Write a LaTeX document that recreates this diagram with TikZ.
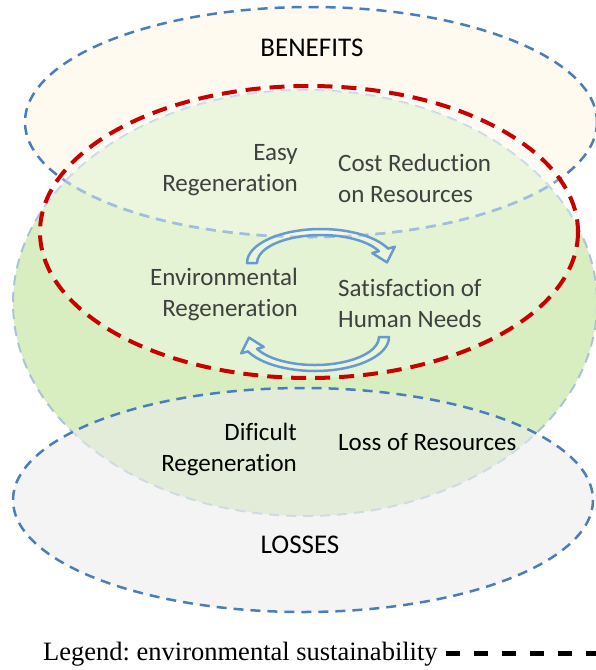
\documentclass[tikz,border=0pt]{standalone}
\usepackage{fontspec}
\setmainfont{Carlito}[Ligatures=NoCommon]
\newfontfamily\legendfont{Liberation Serif}
\frenchspacing
\definecolor{zoneblue}{HTML}{4A7EBB}
\definecolor{zonelight}{HTML}{79A2D2}
\definecolor{creamfill}{HTML}{FEFAF0}
\definecolor{greenfill}{HTML}{B1DD81}
\definecolor{greenedge}{HTML}{A9C3D9}
\definecolor{lossfill}{HTML}{ECECEC}
\definecolor{sustred}{HTML}{C80000}
\definecolor{cyclearrow}{HTML}{6A9ACD}
\definecolor{labelgray}{HTML}{404040}
\begin{document}
\begin{tikzpicture}[x=1pt, y=-1pt,
  zone/.style={draw=zoneblue, line width=2.5pt, dash pattern=on 10pt off 7pt},
  greenzone/.style={draw=greenedge, line width=2pt, dash pattern=on 10pt off 7pt},
  sustain/.style={draw=sustred, line width=4pt, dash pattern=on 15pt off 9pt},
  cyclestyle/.style={draw=cyclearrow, line width=2.5pt, line join=round, fill=white, fill opacity=0.25},
  label/.style={inner sep=0pt, font=\fontsize{25}{31}\selectfont, text=labelgray},
  darklabel/.style={label, text=black},
  caps/.style={inner sep=0pt, font=\fontsize{27}{32}\selectfont, text=black},
  legendtext/.style={inner sep=0pt, font=\legendfont\fontsize{26.5}{30}\selectfont, text=black},
  legenddash/.style={draw=black, line width=5pt, dash pattern=on 14pt off 14pt}]

\useasboundingbox (0,0) rectangle (595,670);

% benefits zone
\fill[creamfill] (311,122) ellipse [x radius=286, y radius=115];
\path[zone] (311,122) ellipse [x radius=286, y radius=115];

% regeneration zone (translucent green)
\fill[greenfill, fill opacity=0.5] (305,303) ellipse [x radius=292, y radius=213];
\path[greenzone] (305,303) ellipse [x radius=292, y radius=213];

% lighter overlap of benefits and regeneration, with its softened outline
\begin{scope}
  \clip (305,303) ellipse [x radius=292, y radius=213];
  \fill[white, fill opacity=0.33] (311,122) ellipse [x radius=286, y radius=115];
  \path[zone, draw=zonelight] (311,122) ellipse [x radius=286, y radius=115];
\end{scope}

% losses zone
\fill[lossfill, fill opacity=0.57] (303,500) ellipse [x radius=290, y radius=112];
\path[zone] (303,500) ellipse [x radius=290, y radius=112];

% environmental sustainability boundary
\fill[white, fill opacity=0.3] (309,232) ellipse [x radius=269, y radius=146];
\path[sustain] (309,232) ellipse [x radius=269, y radius=146];

% cycle arrows (curved block arrows, the second one turned half round)
\foreach \turn in {0,180}{
  \path[cyclestyle, rotate around={\turn:(318,300)}]
    (247,263) arc[start angle=180, end angle=335, x radius=74, y radius=34]
    -- (394.8,246.7) -- (387.0,262.4) -- (372.3,253.1) -- (379.0,251.17)
    arc[start angle=335, end angle=180, x radius=64, y radius=28] -- cycle;
}

% labels
\node[caps] (benefits) at (312,48) {BENEFITS};
\node[label, anchor=east, align=right] (easy) at (298,170) {Easy\\Regeneration};
\node[label, anchor=west, align=left] (cost) at (338,178) {Cost Reduction\\on Resources};
\node[label, anchor=east, align=right] (env) at (298,294) {Environmental\\Regeneration};
\node[label, anchor=west, align=left] (human) at (338,303) {Satisfaction of\\Human Needs};
\node[darklabel, anchor=east, align=right] (dificult) at (297,449) {Dificult\\Regeneration};
\node[darklabel, anchor=west] (loss) at (338,442) {Loss of Resources};
\node[caps] (losses) at (300,545) {LOSSES};

% legend
\node[legendtext, anchor=base west] (legend) at (43,660) {Legend: environmental sustainability};
\coordinate (legendend) at (600,653);
\path[legenddash] ([xshift=8pt]legend.east |- legendend) -- (legendend);
\end{tikzpicture}
\end{document}
